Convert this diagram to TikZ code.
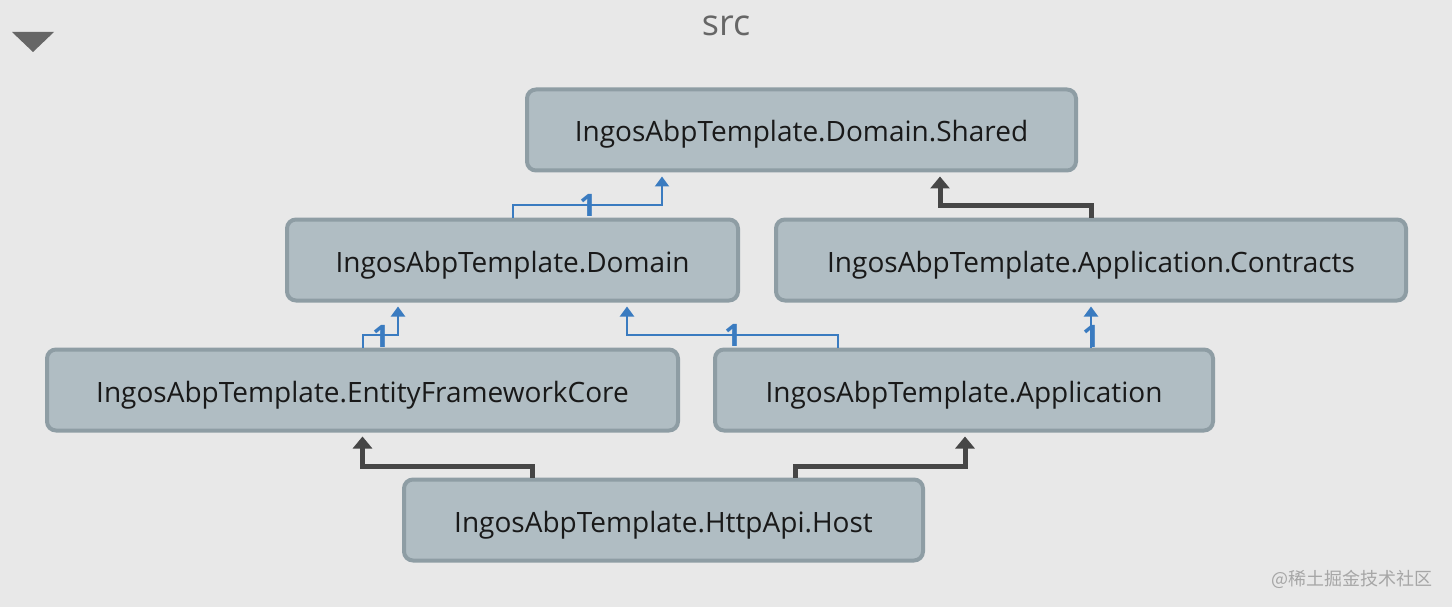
\documentclass[tikz,border=0pt]{standalone}
\usepackage{fontspec}
\setmainfont{Open Sans}
\newfontfamily\cjk{Noto Sans CJK SC}
\usetikzlibrary{arrows.meta,calc}
\definecolor{bgc}{HTML}{E8E8E8}
\definecolor{boxfill}{HTML}{B0BDC3}
\definecolor{boxline}{HTML}{8E9DA4}
\definecolor{depblue}{HTML}{3A7BC0}
\definecolor{depdark}{HTML}{464646}
\definecolor{titlegray}{HTML}{666666}
\tikzset{
  proj/.style={draw=boxline, fill=boxfill, line width=4pt, rounded corners=9pt,
    inner sep=0pt, minimum height=81pt, text=black!90,
    text height=24pt, text depth=0pt,
    font=\fontsize{28}{32}\selectfont},
  blueconn/.style={draw=depblue, line width=2pt, -{Triangle[length=10pt,width=14pt]}},
  darkconn/.style={draw=depdark, line width=5pt, -{Triangle[length=12pt,width=19pt]}},
  mult/.style={text=depblue, font=\fontsize{31}{31}\selectfont\bfseries, inner sep=0pt}
}
\begin{document}
\begin{tikzpicture}[x=1pt,y=-1pt]
\fill[bgc] (0,0) rectangle (1452,607);
\useasboundingbox (0,0) rectangle (1452,607);
\node[text=titlegray, font=\fontsize{36}{40}\selectfont, anchor=base, inner sep=0pt] (title) at (726,36) {src};
\fill[titlegray] (12,32) -- (54,32) -- (33,52) -- cycle;
\node[proj, minimum width=549pt] (shared) at (801.5,130) {IngosAbpTemplate.Domain.Shared};
\node[proj, minimum width=451pt] (domain) at (512.5,260) {IngosAbpTemplate.Domain};
\node[proj, minimum width=630pt] (contracts) at (1091,260) {IngosAbpTemplate.Application.Contracts};
\node[proj, minimum width=631pt] (efcore) at (362.5,390) {IngosAbpTemplate.EntityFrameworkCore};
\node[proj, minimum width=498pt] (app) at (964,390) {IngosAbpTemplate.Application};
\node[proj, minimum width=519pt] (host) at (663.5,520) {IngosAbpTemplate.HttpApi.Host};
% blue dependencies
\draw[blueconn] (domain.north) -- ++(0,-12) -| ($(shared.south)+(-139.5,4)$);
\draw[blueconn] (efcore.north) -- ++(0,-13) -| ($(domain.south)+(-114.5,4)$);
\draw[blueconn] ($(app.north)+(-126,0)$) -- ++(0,-13) -| ($(domain.south)+(114.5,4)$);
\draw[blueconn] (app.north -| contracts.south) -- ($(contracts.south)+(0,4)$);
\node[mult] (m1) at (588,205) {1};
\node[mult] (m2) at (381,336) {1};
\node[mult] (m3) at (733,335) {1};
\node[mult] (m4) at (1091,336) {1};
% dark dependencies
\draw[darkconn] (contracts.north) -- ++(0,-12) -| ($(shared.south)+(138.5,4)$);
\draw[darkconn] ($(host.north)+(-131.5,0)$) -- ++(0,-11) -| ($(efcore.south)+(0,4)$);
\draw[darkconn] ($(host.north)+(131.5,0)$) -- ++(0,-11) -| ($(app.south)+(1,4)$);
\node[text=black!35, font=\cjk\fontsize{18}{20}\selectfont, anchor=east] (wm) at (1436,579) {@稀土掘金技术社区};
\end{tikzpicture}
\end{document}
